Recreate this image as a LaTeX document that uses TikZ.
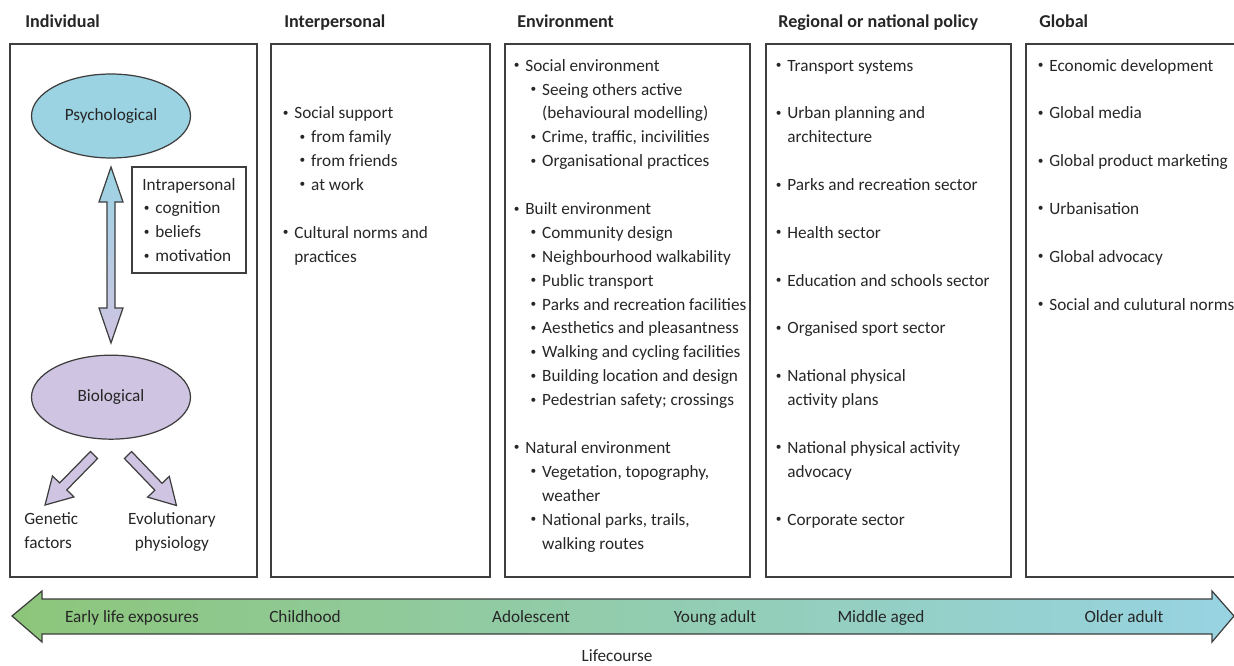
\documentclass[tikz,border=0pt]{standalone}
\usepackage{fontspec}
\setmainfont{Carlito}
\usetikzlibrary{positioning, shapes.geometric}
\definecolor{linegrey}{RGB}{62,62,62}
\definecolor{txtgrey}{RGB}{38,38,38}
\definecolor{psyblue}{RGB}{155,211,227}
\definecolor{biolav}{RGB}{207,196,226}
\definecolor{lcgreen}{RGB}{141,198,122}
\definecolor{lcblue}{RGB}{151,211,226}
\tikzset{panel/.style={draw=linegrey,line width=0.8pt},
  head/.style={anchor=base west,inner sep=0pt,font=\bfseries\fontsize{10.3}{12}\selectfont},
  list/.style={anchor=base west,align=left,inner sep=0pt},
  stage/.style={anchor=base,inner sep=0pt},
  oval/.style={ellipse,draw=linegrey,line width=0.7pt,minimum width=3.18cm,minimum height=1.68cm},
  fat arrow/.style={draw=linegrey,line width=0.7pt,fill=biolav},}
\newcommand{\bul}{\makebox[7.4pt][l]{\hspace{0.8pt}\raisebox{0.3ex}{\fontsize{6.5}{6.5}\selectfont\textbullet}}}
\newcommand{\itm}{\bul}
\newcommand{\subitm}{\hspace*{9.6pt}\bul}
\newcommand{\cont}{\hspace*{9.6pt}\phantom{\bul}}

\begin{document}
\begin{tikzpicture}[x=0.02cm, y=-0.02cm, text=txtgrey, font=\fontsize{9.8}{13.6}\selectfont]
       \useasboundingbox (0,0) rectangle (1234,666);
       % headings
       \node[head] (hind) at (25,28) {Individual};
       \node[head] (hint) at (284,28) {Interpersonal};
       \node[head] (henv) at (517,28) {Environment};
       \node[head] (hreg) at (778,28) {Regional or national policy};
       \node[head] (hglo) at (1039,28) {Global};
       
       % panels
       \draw[panel] (10,44) rectangle (257,577);
       \draw[panel] (271,44) rectangle (490,577);
       \draw[panel] (505,44) rectangle (750,577);
       \draw[panel] (766,44) rectangle (1011,577);
       \draw[panel] (1026,44) rectangle (1260,577);
       
       % individual (list nodes sit on the baseline of their last line)
       \node[oval, fill=psyblue] (psy) at (111,116) {Psychological};
       \node[oval, fill=biolav] (bio) [below = 3.92cm of psy] {Biological};
       \path[draw=linegrey, line width=0.7pt, top color=psyblue, bottom color=biolav]
       (111,167) -- (123,202) -- (115,202) -- (115,308) -- (123,308) -- (111,343)
       -- (99,308) -- (107,308) -- (107,202) -- (99,202) -- cycle;
       \node[draw=linegrey, line width=0.7pt, align=left, minimum width=2.28cm, minimum height=2.12cm] (intra) at (189,220)
       {Intrapersonal\\\itm cognition\\\itm beliefs\\\itm motivation};
       \begin{scope}[shift={(94,455)}, rotate=-134.4]
       \path[fat arrow] (0,-5) -- (44,-5) -- (44,-15) -- (70,0) -- (44,15) -- (44,5) -- (0,5) -- cycle;
       \end{scope}
       \begin{scope}[shift={(128,455)}, rotate=-46.2]
       \path[fat arrow] (0,-5) -- (44,-5) -- (44,-15) -- (70,0) -- (44,15) -- (44,5) -- (0,5) -- cycle;
       \end{scope}
       \node[list] (gen) at (24,548) {Genetic\\factors};
       \node[stage, align=center] (evo) at (172,548) {Evolutionary\\physiology};
       
       % interpersonal
       \node[list] (inter) at (281,262) {\itm Social support\\\subitm from family\\\subitm from friends\\\subitm at work\\[13.6pt]
       \itm Cultural norms and\\\phantom{\bul}practices};
       
       % environment
       \node[list] (env) at (512,549) {\itm Social environment\\\subitm Seeing others active\\\cont(behavioural modelling)\\
       \subitm Crime, traffic, incivilities\\\subitm Organisational practices\\[13.6pt]
       \itm Built environment\\\subitm Community design\\\subitm Neighbourhood walkability\\\subitm Public transport\\
       \subitm Parks and recreation facilities\\\subitm Aesthetics and pleasantness\\\subitm Walking and cycling facilities\\
       \subitm Building location and design\\\subitm Pedestrian safety; crossings\\[13.6pt]
       \itm Natural environment\\\subitm Vegetation, topography,\\\cont weather\\\subitm National parks, trails,\\\cont walking routes};
       
       % regional or national policy
       \node[list] (reg) at (774,525) {\itm Transport systems\\[13.6pt]\itm Urban planning and\\\phantom{\bul}architecture\\[13.6pt]
       \itm Parks and recreation sector\\[13.6pt]\itm Health sector\\[13.6pt]\itm Education and schools sector\\[13.6pt]
       \itm Organised sport sector\\[13.6pt]\itm National physical\\\phantom{\bul}activity plans\\[13.6pt]
       \itm National physical activity\\\phantom{\bul}advocacy\\[13.6pt]\itm Corporate sector};
       
       % global
       \node[list] (glo) at (1036,310) {\itm Economic development\\[13.6pt]\itm Global media\\[13.6pt]\itm Global product marketing\\[13.6pt]
       \itm Urbanisation\\[13.6pt]\itm Global advocacy\\[13.6pt]\itm Social and culutural norms};
       
       % lifecourse
       \path[draw=linegrey, line width=0.7pt, left color=lcgreen, right color=lcblue]
       (12,616) -- (42,591) -- (42,599) -- (1212,599) -- (1212,591) -- (1234,616)
       -- (1212,642) -- (1212,634) -- (42,634) -- (42,642) -- cycle;
       \node[stage] (s1) at (132,622) {Early life exposures};
       \node[stage] (s2) at (305,622) {Childhood};
       \node[stage] (s3) at (531,622) {Adolescent};
       \node[stage] (s4) at (715,622) {Young adult};
       \node[stage] (s5) at (881,622) {Middle aged};
       \node[stage] (s6) at (1124,622) {Older adult};
       \node[stage] (life) at (617,661) {Lifecourse};
\end{tikzpicture}
\end{document}
